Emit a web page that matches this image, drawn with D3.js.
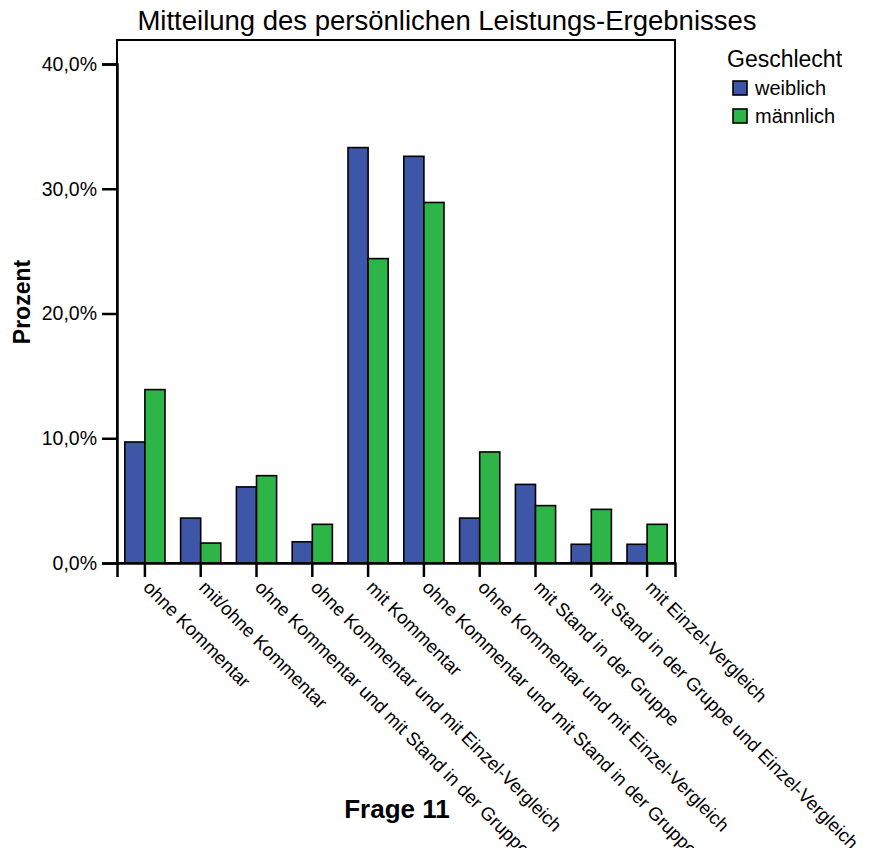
<!DOCTYPE html>
<html><head><meta charset="utf-8">
<script src="https://cdn.jsdelivr.net/npm/d3@7"></script>
<style>body{margin:0;background:#fff}svg{display:block}text{font-family:"Liberation Sans",Arial,sans-serif;fill:#000}</style>
</head><body>
<svg id="c" width="875" height="848"></svg>
<script>
const categories = ["ohne Kommentar","mit/ohne Kommentar","ohne Kommentar und mit Stand in der Gruppe","ohne Kommentar und mit Einzel-Vergleich","mit Kommentar","ohne Kommentar und mit Stand in der Gruppe","ohne Kommentar und mit Einzel-Vergleich","mit Stand in der Gruppe","mit Stand in der Gruppe und Einzel-Vergleich","mit Einzel-Vergleich"];
const seriesNames = ["weiblich","männlich"];
const weiblich = [9.7,3.6,6.1,1.7,33.3,32.6,3.6,6.3,1.5,1.5];
const maennlich = [13.9,1.6,7.0,3.1,24.4,28.9,8.9,4.6,4.3,3.1];
const yTicks = [0,10,20,30,40];
const colors = ["#3d56a8","#2db548"];
const FF = "Liberation Sans, Arial, sans-serif";

const svg = d3.select("#c");
const L=117,R=675,T=40,B=563;
const idx = d3.range(categories.length);
const x0 = d3.scaleBand().domain(idx).range([L,R]).paddingInner(0.28).paddingOuter(0.14);
const x1 = d3.scaleBand().domain([0,1]).range([0,x0.bandwidth()]);
const y = d3.scaleLinear().domain([0,40]).range([B,B-499]);

// frame
svg.append("rect").attr("x",L).attr("y",T).attr("width",R-L).attr("height",B-T)
  .attr("fill","none").attr("stroke","#000").attr("stroke-width",2);

// bars
const vals=[weiblich,maennlich];
idx.forEach(i=>{
  [0,1].forEach(s=>{
    svg.append("rect").attr("x",x0(i)+x1(s)).attr("y",y(vals[s][i]))
      .attr("width",x1.bandwidth()).attr("height",B-y(vals[s][i]))
      .attr("fill",colors[s]).attr("stroke","#000").attr("stroke-width",1.6);
  });
});

// y axis
const ya = svg.append("g").attr("transform",`translate(${L},0)`)
  .call(d3.axisLeft(y).tickValues(yTicks).tickSize(15).tickPadding(5)
    .tickFormat(d=>d3.format(".1f")(d).replace(".",",")+"%"));
ya.select(".domain").attr("stroke","#000").attr("stroke-width",2.5);
ya.selectAll(".tick line").attr("stroke","#000").attr("stroke-width",2.5);
ya.selectAll(".tick text").attr("font-size",19.5).attr("font-family",FF).attr("fill","#000");

// x axis
const xa = svg.append("g").attr("transform",`translate(0,${B})`)
  .call(d3.axisBottom(x0).tickSize(14).tickFormat(i=>categories[i]));
xa.select(".domain").attr("stroke","#000").attr("stroke-width",2.5);
xa.selectAll(".tick line").attr("stroke","#000").attr("stroke-width",2.5);
xa.selectAll(".tick text").attr("font-size",18.5).attr("font-family",FF).attr("fill","#000")
  .attr("text-anchor","start").attr("dy","0.35em")
  .attr("transform","translate(2,21) rotate(45)").attr("y",0).attr("x",0);

// title
svg.append("text").attr("x",447).attr("y",30).attr("text-anchor","middle").attr("font-size",27.5).text("Mitteilung des persönlichen Leistungs-Ergebnisses");
// axis titles
svg.append("text").attr("transform","translate(30,302) rotate(-90)").attr("text-anchor","middle").attr("font-size",23).attr("font-weight","bold").text("Prozent");
svg.append("text").attr("x",397).attr("y",818).attr("text-anchor","middle").attr("font-size",26).attr("font-weight","bold").text("Frage 11");

// legend
svg.append("text").attr("x",727).attr("y",67).attr("font-size",23).text("Geschlecht");
seriesNames.forEach((n,s)=>{
  svg.append("rect").attr("x",733).attr("y",81+s*28).attr("width",14).attr("height",14)
    .attr("fill",colors[s]).attr("stroke","#000").attr("stroke-width",1.6);
  svg.append("text").attr("x",755).attr("y",95+s*28).attr("font-size",20).text(n);
});
</script>
</body></html>
